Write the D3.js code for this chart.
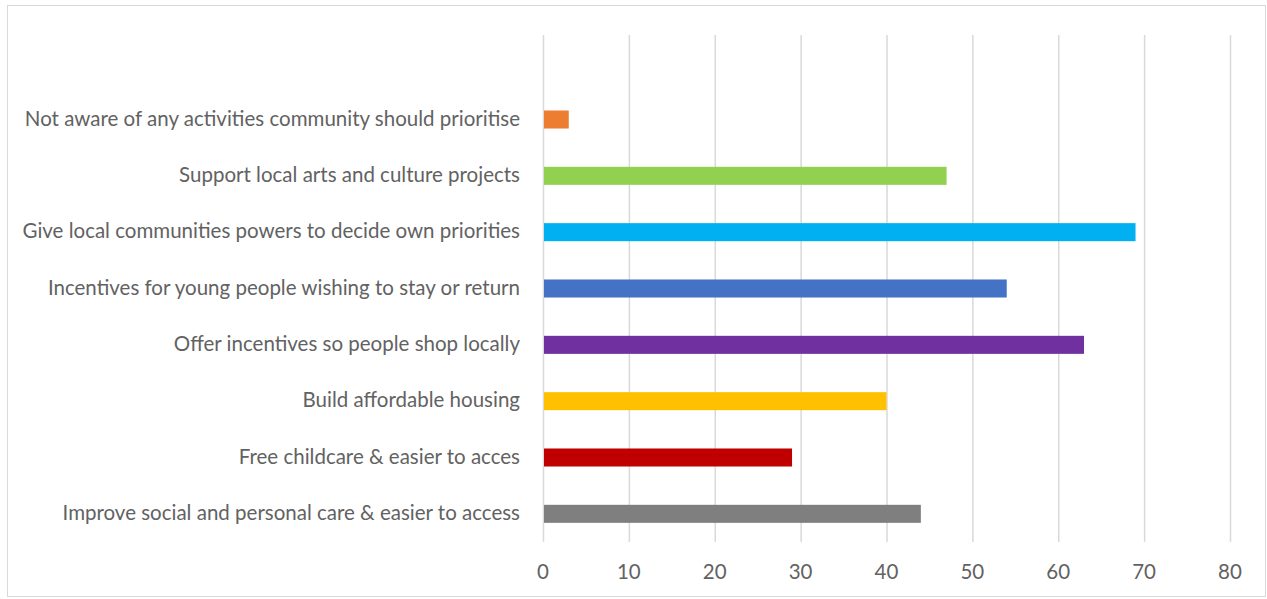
<!DOCTYPE html>
<html><head><meta charset="utf-8">
<script src="https://cdn.jsdelivr.net/npm/d3@7"></script>
<style>body{margin:0;background:#fff;}svg{display:block;}</style>
</head><body>
<svg id="c" width="1267" height="599"></svg>
<script>
const categories = [
  "Improve social and personal care & easier to access",
  "Free childcare & easier to acces",
  "Build affordable housing",
  "Offer incentives so people shop locally",
  "Incentives for young people wishing to stay or return",
  "Give local communities powers to decide own priorities",
  "Support local arts and culture projects",
  "Not aware of any activities community should prioritise"
];
const values = [44, 29, 40, 63, 54, 69, 47, 3];
const colors = ["#7F7F7F", "#C00000", "#FFC000", "#7030A0", "#4472C4", "#00B0F0", "#92D050", "#ED7D31"];
const xTicks = [0, 10, 20, 30, 40, 50, 60, 70, 80];

(function () {
const svg = d3.select("#c");
svg.append("rect").attr("x", 7.5).attr("y", 5.5).attr("width", 1258).attr("height", 591)
  .attr("fill", "#fff").attr("stroke", "#d9d9d9").attr("stroke-width", 1);

const pLeft = 543, pRight = 1230, pTop = 35, pBottom = 542;
const x = d3.scaleLinear().domain([0, 80]).range([pLeft, pRight]);
const step = (pBottom - pTop) / (categories.length + 1);
const y = d3.scaleBand().domain(categories).range([pBottom, pTop + step]).paddingInner(0.68).paddingOuter(0.34);

// gridlines
svg.append("g").selectAll("line").data(xTicks).join("line")
  .attr("x1", d => x(d) + 0.5).attr("x2", d => x(d) + 0.5)
  .attr("y1", pTop).attr("y2", pBottom)
  .attr("stroke", "#d9d9d9").attr("stroke-width", 1.5);

// bars
svg.append("g").selectAll("rect").data(categories).join("rect")
  .attr("x", x(0) + 1).attr("y", d => y(d))
  .attr("width", (d, i) => x(values[i]) - x(0) - 1)
  .attr("height", y.bandwidth())
  .attr("fill", (d, i) => colors[i]);

// category labels
const font = "Lato, 'Open Sans', sans-serif";
svg.append("g").selectAll("text").data(categories).join("text")
  .attr("x", pLeft - 23).attr("y", d => y(d) + y.bandwidth() / 2)
  .attr("dy", "0.3em").attr("text-anchor", "end")
  .attr("font-family", font).attr("font-size", 20.5).attr("fill", "#626262")
  .text(d => d);

// x tick labels
svg.append("g").selectAll("text").data(xTicks).join("text")
  .attr("x", d => x(d)).attr("y", 572).attr("dy", "0.35em").attr("text-anchor", "middle")
  .attr("font-family", font).attr("font-size", 20.5).attr("fill", "#626262")
  .text(d => d);
})();
</script>
</body></html>
